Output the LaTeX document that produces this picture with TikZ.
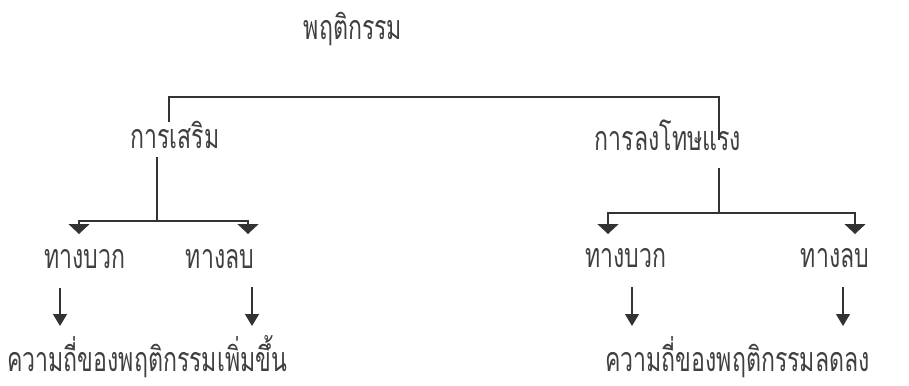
\documentclass[tikz,border=0pt]{standalone}
\usepackage{fontspec}
\newfontfamily\thaifont[Script=Thai,FakeStretch=0.68]{Loma}
\usetikzlibrary{arrows.meta}
\begin{document}
\begin{tikzpicture}[x=1pt,y=-1pt,
  lbl/.style={font=\thaifont\fontsize{34}{36}\selectfont, text=black!75, inner sep=0pt, anchor=base},
  conn/.style={line width=1.6pt, draw=black!80},
  headA/.style={conn, -{Triangle[width=21pt,length=10pt]}},
  headB/.style={conn, line width=1.2pt, -{Triangle[width=14pt,length=12pt]}}]
\useasboundingbox (0,0) rectangle (909,385);
% labels
\node[lbl] (beh) at (353,40) {พฤติกรรม};
\node[lbl] (rein) at (175,148) {การเสริม};
\node[lbl] (pun) at (668,150) {การลงโทษแรง};
\node[lbl] (lpos) at (85,268) {ทางบวก};
\node[lbl] (lneg) at (220,268) {ทางลบ};
\node[lbl] (rpos) at (626,267) {ทางบวก};
\node[lbl] (rneg) at (835,267) {ทางลบ};
\node[lbl, anchor=base west] (inc) at (7,371) {ความถี่ของพฤติกรรมเพิ่มขึ้น};
\node[lbl, anchor=base west] (dec) at (605,371) {ความถี่ของพฤติกรรมลดลง};
% top bracket
\coordinate (tl) at (169,97);
\coordinate (tr) at (719,97);
\coordinate (tlend) at (169,122);
\coordinate (trend) at (719,140);
\draw[conn] (tlend) -- (tl) -- (tr) -- (trend);
% left branch
\coordinate (lv1) at (157,157);
\coordinate (lv2) at (157,221);
\coordinate (lh1) at (79,221);
\coordinate (lh2) at (248,221);
\draw[conn] (lv1) -- (lv2);
\draw[headA] (lv2) -- (lh1) -- (79,234);
\draw[headA] (lv2) -- (lh2) -- (248,234);
% right branch
\coordinate (rv1) at (719,168);
\coordinate (rv2) at (719,213);
\coordinate (rh1) at (608,213);
\coordinate (rh2) at (855,213);
\draw[conn] (rv1) -- (rv2);
\draw[headA] (rv2) -- (rh1) -- (608,234);
\draw[headA] (rv2) -- (rh2) -- (855,234);
% second arrows
\draw[headB] (60,288) -- (60,326);
\draw[headB] (252,287) -- (252,326);
\draw[headB] (632,287) -- (632,326);
\draw[headB] (843,287) -- (843,326);
\end{tikzpicture}
\end{document}
